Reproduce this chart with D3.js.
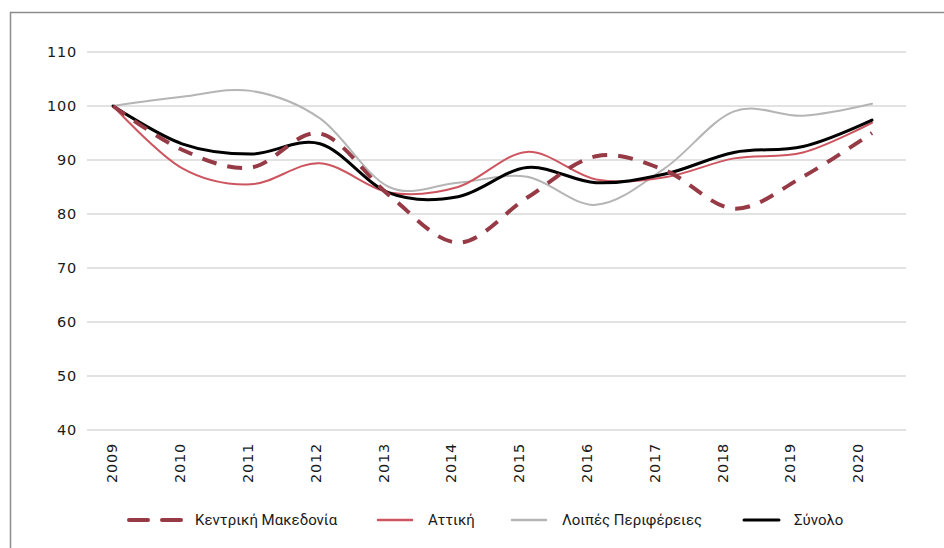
<!DOCTYPE html>
<html><head><meta charset="utf-8">
<script src="https://cdn.jsdelivr.net/npm/d3@7"></script>
<style>body{margin:0;background:#fff;}svg{display:block;}</style>
</head><body>
<svg id="chart" width="944" height="548"></svg>
<script>
const years = ["2009","2010","2011","2012","2013","2014","2015","2016","2017","2018","2019","2020"];
const yTicks = [40,50,60,70,80,90,100,110];
const seriesNames = ["Κεντρική Μακεδονία","Αττική","Λοιπές Περιφέρειες","Σύνολο"];
const kentrikiMakedonia = [100,91.9,88.6,94.9,83.5,74.7,83.0,90.7,88.1,81.0,86.9,95.0];
const attiki = [100,88.5,85.5,89.4,84.0,85.0,91.5,86.4,86.8,90.3,91.4,96.9];
const loipes = [100,101.7,102.8,97.7,85.0,85.8,86.9,81.7,88.5,99.0,98.2,100.4];
const synolo = [100,93.0,91.1,93.0,83.9,83.2,88.6,85.8,87.4,91.4,92.5,97.4];

const svg = d3.select("#chart");
const W = 944, H = 548;

// frame
svg.append("path").attr("d", `M10.5,${H} L10.5,12.5 L${W},12.5`)
  .attr("fill","none").attr("stroke","#8c8c8c").attr("stroke-width",1.5);

const y = d3.scaleLinear().domain([40,110]).range([430,52]);
const x = d3.scalePoint().domain(years).range([113,872]);
const xLab = d3.scalePoint().domain(years).range([112,858]);

// gridlines
svg.append("g").selectAll("line").data(yTicks).join("line")
  .attr("x1",87).attr("x2",906)
  .attr("y1",d=>y(d)).attr("y2",d=>y(d))
  .attr("stroke","#d9d9d9").attr("stroke-width",1.5);

// y labels
svg.append("g").selectAll("text").data(yTicks).join("text")
  .attr("x",77).attr("y",d=>y(d)).attr("dy","0.36em")
  .attr("text-anchor","end")
  .attr("font-family","DejaVu Sans, sans-serif").attr("font-size",14.5)
  .attr("letter-spacing","0.8px")
  .attr("fill","#1a1a1a").text(d=>d);

// x labels
svg.append("g").selectAll("text").data(years).join("text")
  .attr("transform",d=>`translate(${xLab(d)},443) rotate(-90)`)
  .attr("dy","0.36em").attr("text-anchor","end")
  .attr("font-family","DejaVu Sans, sans-serif").attr("font-size",14.5)
  .attr("letter-spacing","0.8px")
  .attr("fill","#1a1a1a").text(d=>d);

const series = [
  {name:seriesNames[2], values:loipes, color:"#b5b5b5", width:2, dash:null},
  {name:seriesNames[1], values:attiki, color:"#cd5560", width:2, dash:null},
  {name:seriesNames[3], values:synolo, color:"#000000", width:3, dash:null},
  {name:seriesNames[0], values:kentrikiMakedonia, color:"#963a46", width:4, dash:"15,11"}
];

const line = d3.line().x((d,i)=>x(years[i])).y(d=>y(d)).curve(d3.curveCatmullRom.alpha(0));

svg.append("g").selectAll("path").data(series).join("path")
  .attr("d",d=>line(d.values))
  .attr("fill","none").attr("stroke",d=>d.color)
  .attr("stroke-width",d=>d.width)
  .attr("stroke-dasharray",d=>d.dash)
  .attr("stroke-linecap",d=>d.dash? "butt":"round")
  .attr("stroke-linejoin","round");

// legend
const legendItems = [
  {name:seriesNames[0], color:"#963a46", width:4, dash:"19,14", x0:129, x1:181, tx:195},
  {name:seriesNames[1], color:"#cd5560", width:2.5, dash:null, x0:378, x1:412, tx:428},
  {name:seriesNames[2], color:"#b5b5b5", width:2.5, dash:null, x0:512, x1:546, tx:562},
  {name:seriesNames[3], color:"#000000", width:3, dash:null, x0:744, x1:779, tx:794}
];
const lg = svg.append("g").selectAll("g").data(legendItems).join("g");
lg.append("line").attr("x1",d=>d.x0).attr("x2",d=>d.x1).attr("y1",520).attr("y2",520)
  .attr("stroke",d=>d.color).attr("stroke-width",d=>d.width)
  .attr("stroke-dasharray",d=>d.dash).attr("stroke-linecap","round");
lg.append("text").attr("x",d=>d.tx).attr("y",520).attr("dy","0.36em")
  .attr("font-family","Liberation Sans Narrow, Roboto, sans-serif").attr("font-size",15)
  .attr("fill","#1a1a1a").text(d=>d.name);
</script>
</body></html>
